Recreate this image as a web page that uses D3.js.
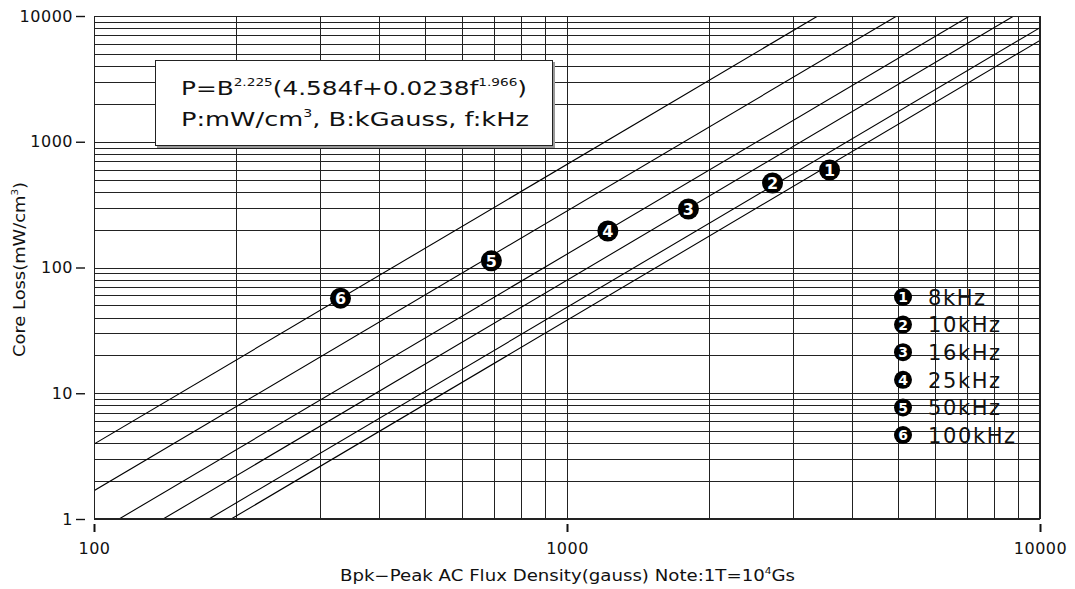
<!DOCTYPE html>
<html>
<head>
<meta charset="utf-8">
<script src="https://cdn.jsdelivr.net/npm/d3@7"></script>
<style>
  html, body { margin: 0; padding: 0; background: #fff; }
  svg { display: block; font-family: "DejaVu Sans", sans-serif; }
</style>
</head>
<body>
<svg id="chart"></svg>
<script>
// Kernverlust-Kurven, Werte
const freqLabels = ["8kHz", "10kHz", "16kHz", "25kHz", "50kHz", "100kHz"];
// Anfangs- und Endpunkt jeder Geraden [gauss, mW/cm3]
const lineStart = [[195, 1], [175, 1], [140, 1], [113, 1], [100, 1.68], [100, 3.94]];
const lineEnd   = [[10000, 6400], [10000, 8070], [8800, 10000], [7100, 10000], [4980, 10000], [3390, 10000]];
// Nummern-Marker auf den Kurven
const markerB = [3590, 2720, 1806, 1220, 692, 332];
const markerP = [596, 470, 292, 195, 113, 57];
const xTicks = [100, 1000, 10000];
const yTicks = [1, 10, 100, 1000, 10000];

const width = 1075, height = 589;
const margin = { top: 16, right: 35, bottom: 70, left: 94 };
const innerWidth  = width - margin.left - margin.right;
const innerHeight = height - margin.top - margin.bottom;
const font = "DejaVu Sans, sans-serif";

const svg = d3.select("#chart")
  .attr("width", width)
  .attr("height", height);

const x = d3.scaleLog().domain([100, 10000]).range([margin.left, margin.left + innerWidth]);
const y = d3.scaleLog().domain([1, 10000]).range([margin.top + innerHeight, margin.top]);

// Gitter: 1..9 je Dekade
const gridX = [], gridY = [];
for (let e = 2; e < 4; e++) for (let m = 1; m < 10; m++) gridX.push(m * 10 ** e);
gridX.push(10000);
for (let e = 0; e < 4; e++) for (let m = 1; m < 10; m++) gridY.push(m * 10 ** e);
gridY.push(10000);

const grid = svg.append("g").attr("stroke", "#222").attr("stroke-width", 1).attr("shape-rendering", "crispEdges");
grid.selectAll(".gx").data(gridX).join("line")
  .attr("x1", d => Math.round(x(d)) + 0.5).attr("x2", d => Math.round(x(d)) + 0.5)
  .attr("y1", margin.top).attr("y2", margin.top + innerHeight);
grid.selectAll(".gy").data(gridY).join("line")
  .attr("y1", d => Math.round(y(d)) + 0.5).attr("y2", d => Math.round(y(d)) + 0.5)
  .attr("x1", margin.left).attr("x2", margin.left + innerWidth);

// Clip für die Geraden
svg.append("clipPath").attr("id", "clip")
  .append("rect")
  .attr("x", margin.left).attr("y", margin.top)
  .attr("width", innerWidth).attr("height", innerHeight);

svg.append("g").attr("clip-path", "url(#clip)")
  .selectAll("line").data(lineStart).join("line")
  .attr("x1", d => x(d[0])).attr("y1", d => y(d[1]))
  .attr("x2", (d, i) => x(lineEnd[i][0])).attr("y2", (d, i) => y(lineEnd[i][1]))
  .attr("stroke", "#000").attr("stroke-width", 1.1);

// Formel-Kasten
const box = svg.append("g");
box.append("rect").attr("x", 157).attr("y", 62).attr("width", 398).attr("height", 86).attr("fill", "#999");
box.append("rect").attr("x", 155.5).attr("y", 60.5).attr("width", 397).attr("height", 85)
  .attr("fill", "#fff").attr("stroke", "#222").attr("stroke-width", 1);
const f1 = box.append("text").attr("x", 181).attr("y", 95).attr("font-size", 20)
  .attr("textLength", 346).attr("lengthAdjust", "spacingAndGlyphs").attr("fill", "#111");
f1.append("tspan").text("P=B");
f1.append("tspan").attr("dy", -9).attr("font-size", 11).text("2.225");
f1.append("tspan").attr("dy", 9).text("(4.584f+0.0238f");
f1.append("tspan").attr("dy", -9).attr("font-size", 11).text("1.966");
f1.append("tspan").attr("dy", 9).text(")");
const f2 = box.append("text").attr("x", 181).attr("y", 126).attr("font-size", 20)
  .attr("textLength", 348).attr("lengthAdjust", "spacingAndGlyphs").attr("fill", "#111");
f2.append("tspan").text("P:mW/cm");
f2.append("tspan").attr("dy", -9).attr("font-size", 11).text("3");
f2.append("tspan").attr("dy", 9).text(",  B:kGauss,  f:kHz");

// Marker auf den Kurven
const mk = svg.append("g").selectAll("g").data(markerB).join("g")
  .attr("transform", (d, i) => `translate(${x(d)},${y(markerP[i])})`);
mk.append("circle").attr("r", 10.5).attr("fill", "#000");
mk.append("text").attr("text-anchor", "middle").attr("dy", "0.37em")
  .attr("font-size", 16).attr("font-weight", "bold").attr("fill", "#fff")
  .text((d, i) => i + 1);

// Legende
const leg = svg.append("g").selectAll("g").data(freqLabels).join("g")
  .attr("transform", (d, i) => `translate(903,${297 + i * 27.6})`);
leg.append("circle").attr("r", 9).attr("fill", "#000");
leg.append("text").attr("text-anchor", "middle").attr("dy", "0.37em")
  .attr("font-size", 14).attr("font-weight", "bold").attr("fill", "#fff")
  .text((d, i) => i + 1);
leg.append("text").attr("x", 25).attr("dy", "0.37em")
  .attr("font-size", 21).attr("letter-spacing", 1.6).attr("fill", "#111")
  .text(d => d);

// Rahmen
svg.append("rect").attr("x", margin.left + 0.5).attr("y", margin.top + 0.5)
  .attr("width", innerWidth - 1).attr("height", innerHeight - 1)
  .attr("fill", "none").attr("stroke", "#222");

// Achsen
const yAxis = svg.append("g")
  .attr("transform", `translate(${margin.left - 9},0)`)
  .call(d3.axisLeft(y).tickValues(yTicks).tickFormat(d3.format("d")).tickSize(9).tickPadding(3));
yAxis.select(".domain").remove();
yAxis.selectAll(".tick line").attr("stroke", "#111").attr("stroke-width", 1.4);
yAxis.selectAll(".tick text").attr("font-size", 16).attr("letter-spacing", 0.5)
  .attr("fill", "#111").attr("font-family", font);

const xAxis = svg.append("g")
  .attr("transform", `translate(0,${margin.top + innerHeight + 5})`)
  .call(d3.axisBottom(x).tickValues(xTicks).tickFormat(d3.format("d")).tickSize(8).tickPadding(11));
xAxis.select(".domain").remove();
xAxis.selectAll(".tick line").attr("stroke", "#111").attr("stroke-width", 2);
xAxis.selectAll(".tick text").attr("font-size", 16).attr("letter-spacing", 0.5)
  .attr("fill", "#111").attr("font-family", font);

// Achsentitel
const xt = svg.append("text").attr("x", 340).attr("y", 581)
  .attr("font-size", 15.5).attr("textLength", 455).attr("lengthAdjust", "spacingAndGlyphs").attr("fill", "#111");
xt.append("tspan").text("Bpk\u2212Peak AC Flux Density(gauss) Note:1T=10");
xt.append("tspan").attr("dy", -7).attr("font-size", 9).text("4");
xt.append("tspan").attr("dy", 7).text("Gs");

const yt = svg.append("text").attr("transform", "translate(25,357) rotate(-90)")
  .attr("font-size", 15.5).attr("textLength", 175).attr("lengthAdjust", "spacingAndGlyphs").attr("fill", "#111");
yt.append("tspan").text("Core Loss(mW/cm");
yt.append("tspan").attr("dy", -7).attr("font-size", 9).text("3");
yt.append("tspan").attr("dy", 7).text(")");
</script>
</body>
</html>
